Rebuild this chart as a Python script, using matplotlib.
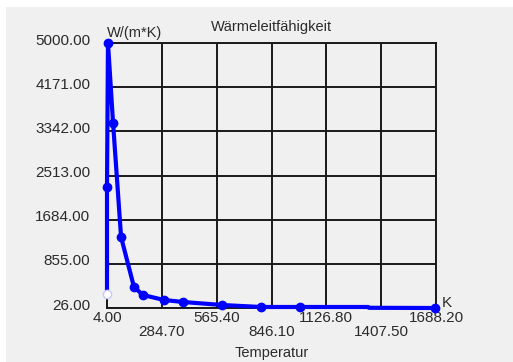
import matplotlib
matplotlib.use("Agg")
import matplotlib.pyplot as plt
from matplotlib.patches import Rectangle
from matplotlib.transforms import ScaledTranslation

# data
temp = [4, 4, 9, 35, 76, 142, 188, 296, 393, 593, 792, 992, 1340, 1345, 1684.2]
k_val = [289, 2297, 5000, 3498, 1359, 420, 270, 176, 139, 82, 45, 45, 45, 30, 26]
marked = [1, 2, 3, 4, 5, 6, 7, 8, 9, 10, 11, 14]

x_ticks = [4.00, 284.70, 565.40, 846.10, 1126.80, 1407.50, 1688.20]
y_ticks = [26.00, 855.00, 1684.00, 2513.00, 3342.00, 4171.00, 5000.00]

W, H = 513, 362
plt.rcParams['font.family'] = ['Liberation Sans', 'DejaVu Sans']
txt = '#2b2b2b'
bg = '#f0f0f0'

fig = plt.figure(figsize=(W / 100, H / 100), dpi=100, facecolor='white')
fig.patches.append(Rectangle((6 / W, 0), 1, 1 - 7 / H, transform=fig.transFigure,
                             facecolor=bg, edgecolor='none', zorder=-10))

ax = fig.add_axes([107 / W, 1 - 308 / H, (436 - 107) / W, (308 - 43) / H])
ax.set_facecolor(bg)
ax.set_xlim(x_ticks[0], x_ticks[-1])
ax.set_ylim(y_ticks[0], y_ticks[-1])

ax.set_xticks(x_ticks[::2], [f"{v:.2f}" for v in x_ticks[::2]])
ax.set_xticks(x_ticks[1::2], [f"{v:.2f}" for v in x_ticks[1::2]], minor=True)
ax.set_yticks(y_ticks, [f"{v:.2f}" for v in y_ticks])
ax.tick_params(which='both', length=0, labelsize=11, labelcolor=txt)
ax.tick_params(axis='x', which='major', pad=2)
ax.tick_params(axis='x', which='minor', pad=12.5)
ax.tick_params(axis='y', pad=12)
for lab in ax.get_yticklabels():
    lab.set_transform(lab.get_transform() + ScaledTranslation(0, 4 / 100, fig.dpi_scale_trans))

ax.grid(which='both', color='#1a1a1a', lw=1.4)
for s in ax.spines.values():
    s.set_color('#1a1a1a')
    s.set_linewidth(1.4)

ax.plot(temp, k_val, color='#0000ff', lw=3, solid_joinstyle='round',
        marker='o', ms=6, markevery=marked, clip_on=False, zorder=5)
ax.plot(temp[0], k_val[0], 'o', ms=6, mfc='white', mec='#c8c8ff', clip_on=False, zorder=6)

ax.set_title('Wärmeleitfähigkeit', fontsize=10.5, color=txt, pad=9)
ax.annotate('W/(m*K)', xy=(0, 1), xycoords='axes fraction', xytext=(0, 3),
            textcoords='offset pixels', fontsize=10.5, color=txt, ha='left', va='bottom')
ax.annotate('K', xy=(1, 0), xycoords='axes fraction', xytext=(6, 5),
            textcoords='offset pixels', fontsize=11, color=txt, ha='left', va='center')
ax.annotate('Temperatur', xy=(0.5, 0), xycoords='axes fraction', xytext=(0, -38),
            textcoords='offset pixels', fontsize=10.5, color=txt, ha='center', va='top')

fig.savefig('out.png', dpi=100, facecolor=fig.get_facecolor())
